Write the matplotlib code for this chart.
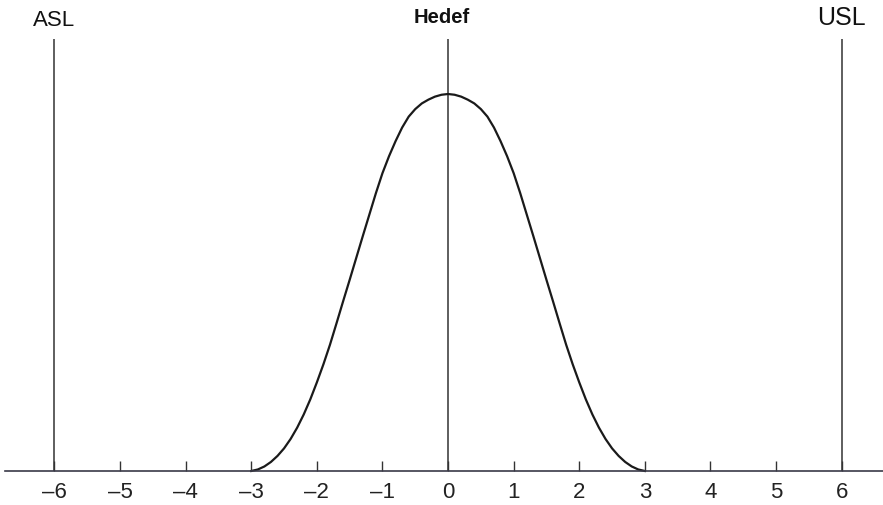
import matplotlib
matplotlib.use("Agg")
import matplotlib.pyplot as plt

plt.rcParams['font.family'] = ['Liberation Sans', 'DejaVu Sans']

# curve (sigma units vs relative height)
curve_x = [-3.0, -2.9, -2.8, -2.7, -2.6, -2.5, -2.4, -2.3, -2.2, -2.1, -2.0,
           -1.9, -1.8, -1.7, -1.6, -1.5, -1.4, -1.3, -1.2, -1.1, -1.0,
           -0.9, -0.8, -0.7, -0.6, -0.5, -0.4, -0.3, -0.2, -0.1, 0.0,
           0.1, 0.2, 0.3, 0.4, 0.5, 0.6, 0.7, 0.8, 0.9, 1.0,
           1.1, 1.2, 1.3, 1.4, 1.5, 1.6, 1.7, 1.8, 1.9, 2.0,
           2.1, 2.2, 2.3, 2.4, 2.5, 2.6, 2.7, 2.8, 2.9, 3.0]
curve_y = [0.0, 0.004, 0.012, 0.024, 0.04, 0.06, 0.085, 0.115, 0.15, 0.19, 0.235,
           0.283, 0.335, 0.392, 0.45, 0.507, 0.565, 0.623, 0.68, 0.737, 0.79,
           0.835, 0.875, 0.911, 0.94, 0.96, 0.975, 0.985, 0.993, 0.998, 1.0,
           0.998, 0.993, 0.985, 0.975, 0.96, 0.94, 0.911, 0.875, 0.835, 0.79,
           0.737, 0.68, 0.623, 0.565, 0.507, 0.45, 0.392, 0.335, 0.283, 0.235,
           0.19, 0.15, 0.115, 0.085, 0.06, 0.04, 0.024, 0.012, 0.004, 0.0]

limit_pos = [-6, 0, 6]
limit_names = ['ASL', 'Hedef', 'USL']

tick_pos = [-6, -5, -4, -3, -2, -1, 0, 1, 2, 3, 4, 5, 6]
tick_labels = ['\u20136', '\u20135', '\u20134', '\u20133', '\u20132', '\u20131',
               '0', '1', '2', '3', '4', '5', '6']

fig = plt.figure(figsize=(8.83, 5.06), dpi=100)
ax = fig.add_axes([0, 0, 1, 1])
ax.set_xlim(-6.83, 6.63)
ax.set_ylim(-0.0902, 1.252)

for s in ['left', 'right', 'top']:
    ax.spines[s].set_visible(False)
ax.spines['bottom'].set_position(('data', 0))
ax.spines['bottom'].set_bounds(-6.75, 6.63)
ax.spines['bottom'].set_color('#3a3a48')
ax.spines['bottom'].set_linewidth(1.2)

ax.set_yticks([])
ax.set_xticks(tick_pos)
ax.set_xticklabels(tick_labels, fontsize=16, color='#222222')
ax.tick_params(axis='x', direction='in', length=7.5, width=1.0,
               color='#333333', pad=7.5)

# spec limits and target
ax.vlines(limit_pos, 0, 1.146, color='#333333', lw=1.1)

ax.plot(curve_x, curve_y, color='#1a1a1a', lw=1.6, solid_joinstyle='round')

ax.text(-6, 1.183, limit_names[0], fontsize=16, ha='center', va='baseline', color='#111111')
ax.text(-0.1, 1.191, limit_names[1], fontsize=14.5, fontweight='bold', ha='center',
        va='baseline', color='#111111')
ax.text(6, 1.186, limit_names[2], fontsize=18, ha='center', va='baseline', color='#111111')

fig.savefig('out.png', dpi=100)
